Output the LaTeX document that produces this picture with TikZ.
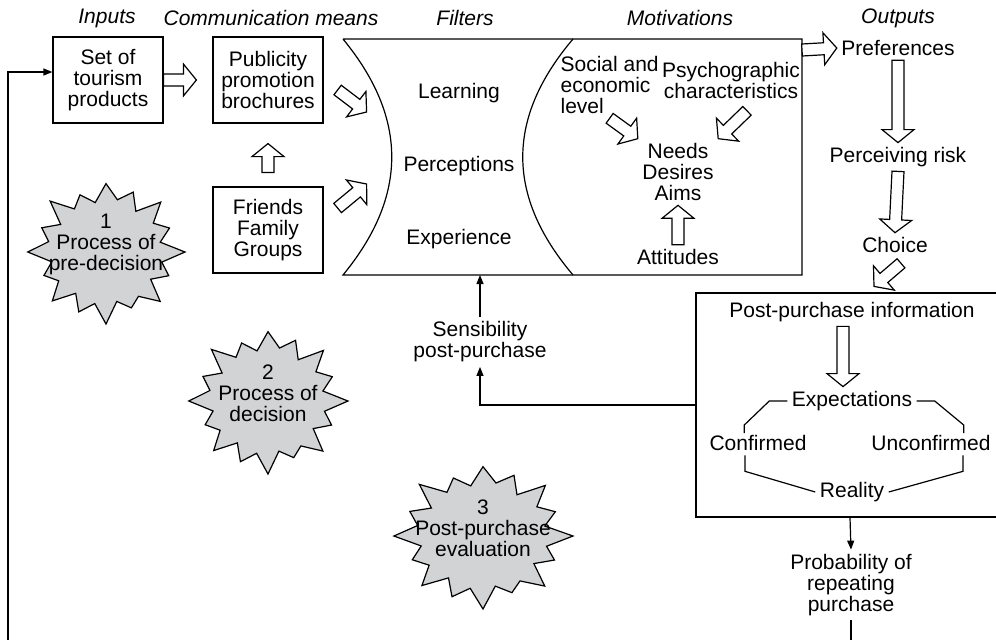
\documentclass[tikz,border=0pt]{standalone}
\usepackage{fontspec}
\setmainfont{Liberation Sans}
\usetikzlibrary{calc,arrows.meta}

\definecolor{burstgray}{HTML}{D1D3D4}

\tikzset{
  every node/.style={font=\fontsize{10.5}{10.5}\selectfont, inner sep=2pt, align=center},
  title/.style={font=\fontsize{10.5}{10.5}\selectfont\itshape},
  box/.style={draw, minimum width=55pt, minimum height=43pt},
  thinarrow/.style={-{Triangle[length=4.5pt,width=3.5pt]}},
  % fat open arrow drawn as a closed outline
  hollow/.style={fill=white, to path={
    ($(\tikztostart)!3pt!90:(\tikztotarget)$)
    -- ($($(\tikztotarget)!6.5pt!(\tikztostart)$)!3pt!90:(\tikztotarget)$)
    -- ($($(\tikztotarget)!6.5pt!(\tikztostart)$)!8pt!90:(\tikztotarget)$)
    -- (\tikztotarget)
    -- ($($(\tikztotarget)!6.5pt!(\tikztostart)$)!8pt!-90:(\tikztotarget)$)
    -- ($($(\tikztotarget)!6.5pt!(\tikztostart)$)!3pt!-90:(\tikztotarget)$)
    -- ($(\tikztostart)!3pt!-90:(\tikztotarget)$) -- cycle}},
  burst/.style={draw, fill=burstgray, line join=miter},
}

% starburst: name, centre, x radius, y radius, text
\newcommand{\burst}[5]{%
  \draw[burst, shift={(#2)}] (0:#3 and #4)
    \foreach \o/\i [count=\k] in {.86/.72,.97/.68,.84/.74,1/.7,.9/.73,.96/.69,.85/.72,.99/.7,
                                  .88/.74,1/.69,.86/.72,.95/.7,.9/.74,.98/.68,.87/.72,1/.7}
      { -- ({\k*22.5-11.25}:{\i*#3} and {\i*#4}) -- ({\k*22.5}:{\o*#3} and {\o*#4}) } -- cycle;
  \node[yshift=4pt] (#1) at (#2) {#5};
}

\begin{document}
\begin{tikzpicture}[x=0.5pt, y=-0.5pt, line width=0.6pt]
  \useasboundingbox (0,0) rectangle (996,639);

  % column headings
  \node[title] (hin) at (107,18) {Inputs};
  \node[title] (hcom) at (271,18) {Communication means};
  \node[title] (hfil) at (465,18) {Filters};
  \node[title] (hmot) at (680,18) {Motivations};
  \node[title] (hout) at (898,18) {Outputs};

  % inputs and communication means
  \node[box] (set) at (108,80) {Set of\\tourism\\products};
  \node[box] (pub) at (268,80) {Publicity\\promotion\\brochures};
  \node[box] (fam) at (268,230) {Friends\\Family\\Groups};

  % filters and motivations
  \draw (343,39) -- (802,39) -- (802,275) -- (343,275) .. controls (408,196) and (408,118) .. (343,39);
  \draw (573,39) .. controls (506,118) and (506,196) .. (573,275);
  \coordinate (fbot) at (480,275);
  \coordinate (mote) at (802,50);

  \node (learn) at (459,93) {Learning};
  \node (perc) at (459,166) {Perceptions};
  \node (exper) at (459,239) {Experience};

  \node[anchor=west, align=left] (social) at (556,85) {Social and\\economic\\level};
  \node (psycho) at (731,80) {Psychographic\\characteristics};
  \node (needs) at (678,172) {Needs\\Desires\\Aims};
  \node (att) at (678,257) {Attitudes};

  % outputs
  \node (pref) at (898,48) {Preferences};
  \node (risk) at (898,157) {Perceiving risk};
  \node (choice) at (895,245) {Choice};

  % post-purchase block
  \node[draw, minimum width=154pt, minimum height=112pt] (ppbox) at (850,405) {};
  \node (ppinfo) at (852,312) {Post-purchase information};
  \node (expect) at (852,401) {Expectations};
  \node (conf) at (758,443) {Confirmed};
  \node (unconf) at (931,443) {Unconfirmed};
  \node (real) at (852,492) {Reality};
  \node (prob) at (851,585) {Probability of\\repeating\\purchase};
  \node (sens) at (480,342) {Sensibility\\post-purchase};

  \draw (expect.west) -- ++(-18,0) -- ++(-25,24) -- ++(0,8);
  \draw (expect.east) -- ++(18,0) -- ++(29,24) -- ++(0,8);
  \draw ([xshift=-6.5pt]conf.south) -- ++(0,16) -- (real.west);
  \draw ([xshift=16pt]unconf.south) -- ++(0,16) -- (real.east);

  % open arrows
  \draw[hollow] (set.east) to ([xshift=-8pt]pub.west);
  \draw[hollow] ([yshift=7pt]fam.north) to ([yshift=-10pt]pub.south);
  \draw[hollow] ([shift={(7pt,-5pt)}]pub.east) to ([shift={(21.5pt,-16pt)}]pub.east);
  \draw[hollow] ([shift={(7pt,11pt)}]fam.east) to ([shift={(21.5pt,23pt)}]fam.east);
  \draw[hollow] (social.south) to (needs.north west);
  \draw[hollow] ([shift={(8pt,-4pt)}]psycho.south) to (needs.north east);
  \draw[hollow] (att.north) to (needs.south);
  \draw[hollow] (mote) to (pref.west);
  \draw[hollow] (pref.south) to (risk.north);
  \draw[hollow] (risk.south) to (choice.north);
  \draw[hollow] ([shift={(3pt,-3pt)}]choice.south) to ([shift={(12pt,3pt)}]ppbox.north);
  \draw[hollow] ([xshift=-4.5pt]ppinfo.south) to ([xshift=-4.5pt]expect.north);

  % feedback lines
  \draw[thinarrow] (sens.north) -- (fbot);
  \draw[thinarrow] (ppbox.west) -| (sens.south);
  \draw[thinarrow] (ppbox.south) -- (prob.north);
  \draw (prob.south) -- ++(0,40);
  \coordinate (loop) at (8,650);
  \draw[thinarrow] (loop) |- ([yshift=4pt]set.west);

  % process stages
  \burst{st1}{106,252}{79}{72}{1\\Process of\\pre-decision}
  \burst{st2}{268,401}{80}{73}{2\\Process of\\decision}
  \burst{st3}{483,536}{90}{73}{3\\Post-purchase\\evaluation}
\end{tikzpicture}
\end{document}
